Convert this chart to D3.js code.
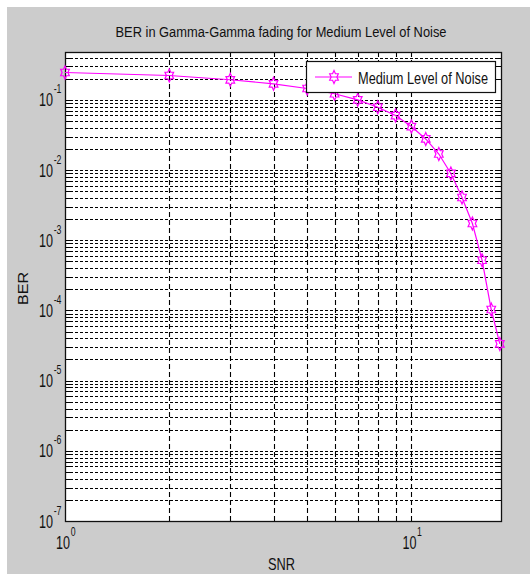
<!DOCTYPE html>
<html>
<head>
<meta charset="utf-8">
<script src="https://cdn.jsdelivr.net/npm/d3@7"></script>
<style>
  html, body { margin: 0; padding: 0; background: #ffffff; }
  svg { display: block; }
  text { font-family: "Liberation Sans", Arial, sans-serif; fill: #111; }
</style>
</head>
<body>
<svg id="chart" width="530" height="574"></svg>
<script>
// ---- data ----
const snr = [1, 2, 3, 4, 5, 6, 7, 8, 9, 10, 11, 12, 13, 14, 15, 16, 17, 18];
const ber = [0.245, 0.222, 0.193, 0.169, 0.145, 0.122, 0.100, 0.0784, 0.0597, 0.0416,
             0.0277, 0.0169, 0.00893, 0.00406, 0.00173, 5.18e-4, 1.03e-4, 3.33e-5];
const seriesName = "Medium Level of Noise";
const titleText = "BER in Gamma-Gamma fading for Medium Level of Noise";
const xLabel = "SNR";
const yLabel = "BER";
const xMajorExp = [0, 1];
const yMajorExp = [-1, -2, -3, -4, -5, -6, -7];
const xDomain = [1, 18.14];
const yDomain = [1e-7, 0.48];

const svg = d3.select("#chart");
const W = 530, H = 574;
const plot = { left: 65, right: 501, top: 52, bottom: 521 };

// background
svg.append("rect").attr("x", 7).attr("y", 7).attr("width", W - 7).attr("height", H - 7).attr("fill", "#cccccc");
svg.append("rect").attr("x", plot.left).attr("y", plot.top)
  .attr("width", plot.right - plot.left).attr("height", plot.bottom - plot.top).attr("fill", "#ffffff");

const x = d3.scaleLog().domain(xDomain).range([plot.left, plot.right]);
const y = d3.scaleLog().domain(yDomain).range([plot.bottom, plot.top]);

// grid values
const xGrid = [];
for (let e = 0; e <= 1; e++) for (let m = 1; m <= 9; m++) {
  const v = m * Math.pow(10, e);
  if (v > xDomain[0] && v < xDomain[1]) xGrid.push(v);
}
const yGrid = [];
for (let e = -7; e <= 0; e++) for (let m = 1; m <= 9; m++) {
  const v = m * Math.pow(10, e);
  if (v > yDomain[0] * 1.0001 && v < yDomain[1]) yGrid.push(v);
}

const g = svg.append("g");
g.selectAll("line.hgrid").data(yGrid).enter().append("line")
  .attr("class", "hgrid")
  .attr("x1", plot.left).attr("x2", plot.right)
  .attr("y1", d => Math.round(y(d)) + 0.5).attr("y2", d => Math.round(y(d)) + 0.5)
  .attr("stroke", "#000").attr("stroke-width", 1.1).attr("stroke-dasharray", "3,2");
g.selectAll("line.vgrid").data(xGrid).enter().append("line")
  .attr("class", "vgrid")
  .attr("y1", plot.top).attr("y2", plot.bottom)
  .attr("x1", d => Math.round(x(d)) + 0.5).attr("x2", d => Math.round(x(d)) + 0.5)
  .attr("stroke", "#000").attr("stroke-width", 1.1).attr("stroke-dasharray", "5,3");

// inward ticks on all sides
const tl = 5;
xGrid.forEach(v => {
  const px = Math.round(x(v)) + 0.5;
  g.append("line").attr("x1", px).attr("x2", px).attr("y1", plot.bottom).attr("y2", plot.bottom - tl).attr("stroke", "#000");
  g.append("line").attr("x1", px).attr("x2", px).attr("y1", plot.top).attr("y2", plot.top + tl).attr("stroke", "#000");
});
yGrid.forEach(v => {
  const py = Math.round(y(v)) + 0.5;
  g.append("line").attr("x1", plot.left).attr("x2", plot.left + tl).attr("y1", py).attr("y2", py).attr("stroke", "#000");
  g.append("line").attr("x1", plot.right).attr("x2", plot.right - tl).attr("y1", py).attr("y2", py).attr("stroke", "#000");
});

// axes box
svg.append("rect").attr("x", plot.left + 0.5).attr("y", plot.top + 0.5)
  .attr("width", plot.right - plot.left).attr("height", plot.bottom - plot.top)
  .attr("fill", "none").attr("stroke", "#111").attr("stroke-width", 1.3);

// tick labels
function powLabel(px, py, exp, expDy) {
  const lg = svg.append("g").attr("transform", `translate(${px},${py}) scale(0.7,1)`);
  lg.append("text").attr("x", 0).attr("y", 0).attr("text-anchor", "end")
    .attr("font-size", 18).text("10");
  lg.append("text").attr("x", 1).attr("y", expDy).attr("text-anchor", "start")
    .attr("font-size", 12.5).text(String(exp));
}
yMajorExp.forEach(e => {
  const py = y(Math.pow(10, e));
  powLabel(53, py + 6.5, e, -13);
});
xMajorExp.forEach(e => {
  const px = x(Math.pow(10, e));
  powLabel(px + 5, 549, e, -13);
});

// title & axis labels
svg.append("text").attr("x", 281).attr("y", 36.5).attr("text-anchor", "middle")
  .attr("font-size", 15.5).attr("textLength", 331).attr("lengthAdjust", "spacingAndGlyphs").text(titleText);
svg.append("text").attr("x", 281.5).attr("y", 570).attr("text-anchor", "middle")
  .attr("font-size", 16.5).attr("textLength", 27).attr("lengthAdjust", "spacingAndGlyphs").text(xLabel);
svg.append("text").attr("transform", "translate(28,288.5) rotate(-90)").attr("text-anchor", "middle")
  .attr("font-size", 15).attr("textLength", 33).attr("lengthAdjust", "spacingAndGlyphs").text(yLabel);

// hexagram marker path
function hexagram(rx, ry) {
  const pts = [];
  const ri = 1 / Math.sqrt(3);
  for (let i = 0; i < 12; i++) {
    const a = -Math.PI / 2 + i * Math.PI / 6;
    const r = (i % 2 === 0) ? 1 : ri;
    pts.push([r * rx * Math.cos(a), r * ry * Math.sin(a)]);
  }
  return "M" + pts.map(p => p[0].toFixed(2) + "," + p[1].toFixed(2)).join("L") + "Z";
}
const markerPath = hexagram(5, 6.5);
const magenta = "#ff00ff";

const data = snr.map((s, i) => ({ s, b: ber[i] }));
const line = d3.line().x(d => x(d.s)).y(d => y(d.b));
svg.append("path").datum(data).attr("d", line)
  .attr("fill", "none").attr("stroke", magenta).attr("stroke-width", 1.2);
svg.selectAll("path.mk").data(data).enter().append("path")
  .attr("class", "mk")
  .attr("transform", d => `translate(${x(d.s)},${y(d.b)})`)
  .attr("d", markerPath).attr("fill", "none").attr("stroke", magenta).attr("stroke-width", 1.2);

// legend
const lgX = 306, lgY = 61, lgW = 189, lgH = 31;
svg.append("rect").attr("x", lgX + 0.5).attr("y", lgY + 0.5).attr("width", lgW).attr("height", lgH)
  .attr("fill", "#ffffff").attr("stroke", "#111").attr("stroke-width", 1.2);
svg.append("line").attr("x1", 315).attr("x2", 352).attr("y1", 77).attr("y2", 77)
  .attr("stroke", magenta).attr("stroke-width", 1.2);
svg.append("path").attr("transform", "translate(334,77)").attr("d", markerPath)
  .attr("fill", "none").attr("stroke", magenta).attr("stroke-width", 1.2);
svg.append("text").attr("x", 358).attr("y", 83.5).attr("font-size", 16)
  .attr("textLength", 130).attr("lengthAdjust", "spacingAndGlyphs").text(seriesName);
</script>
</body>
</html>
